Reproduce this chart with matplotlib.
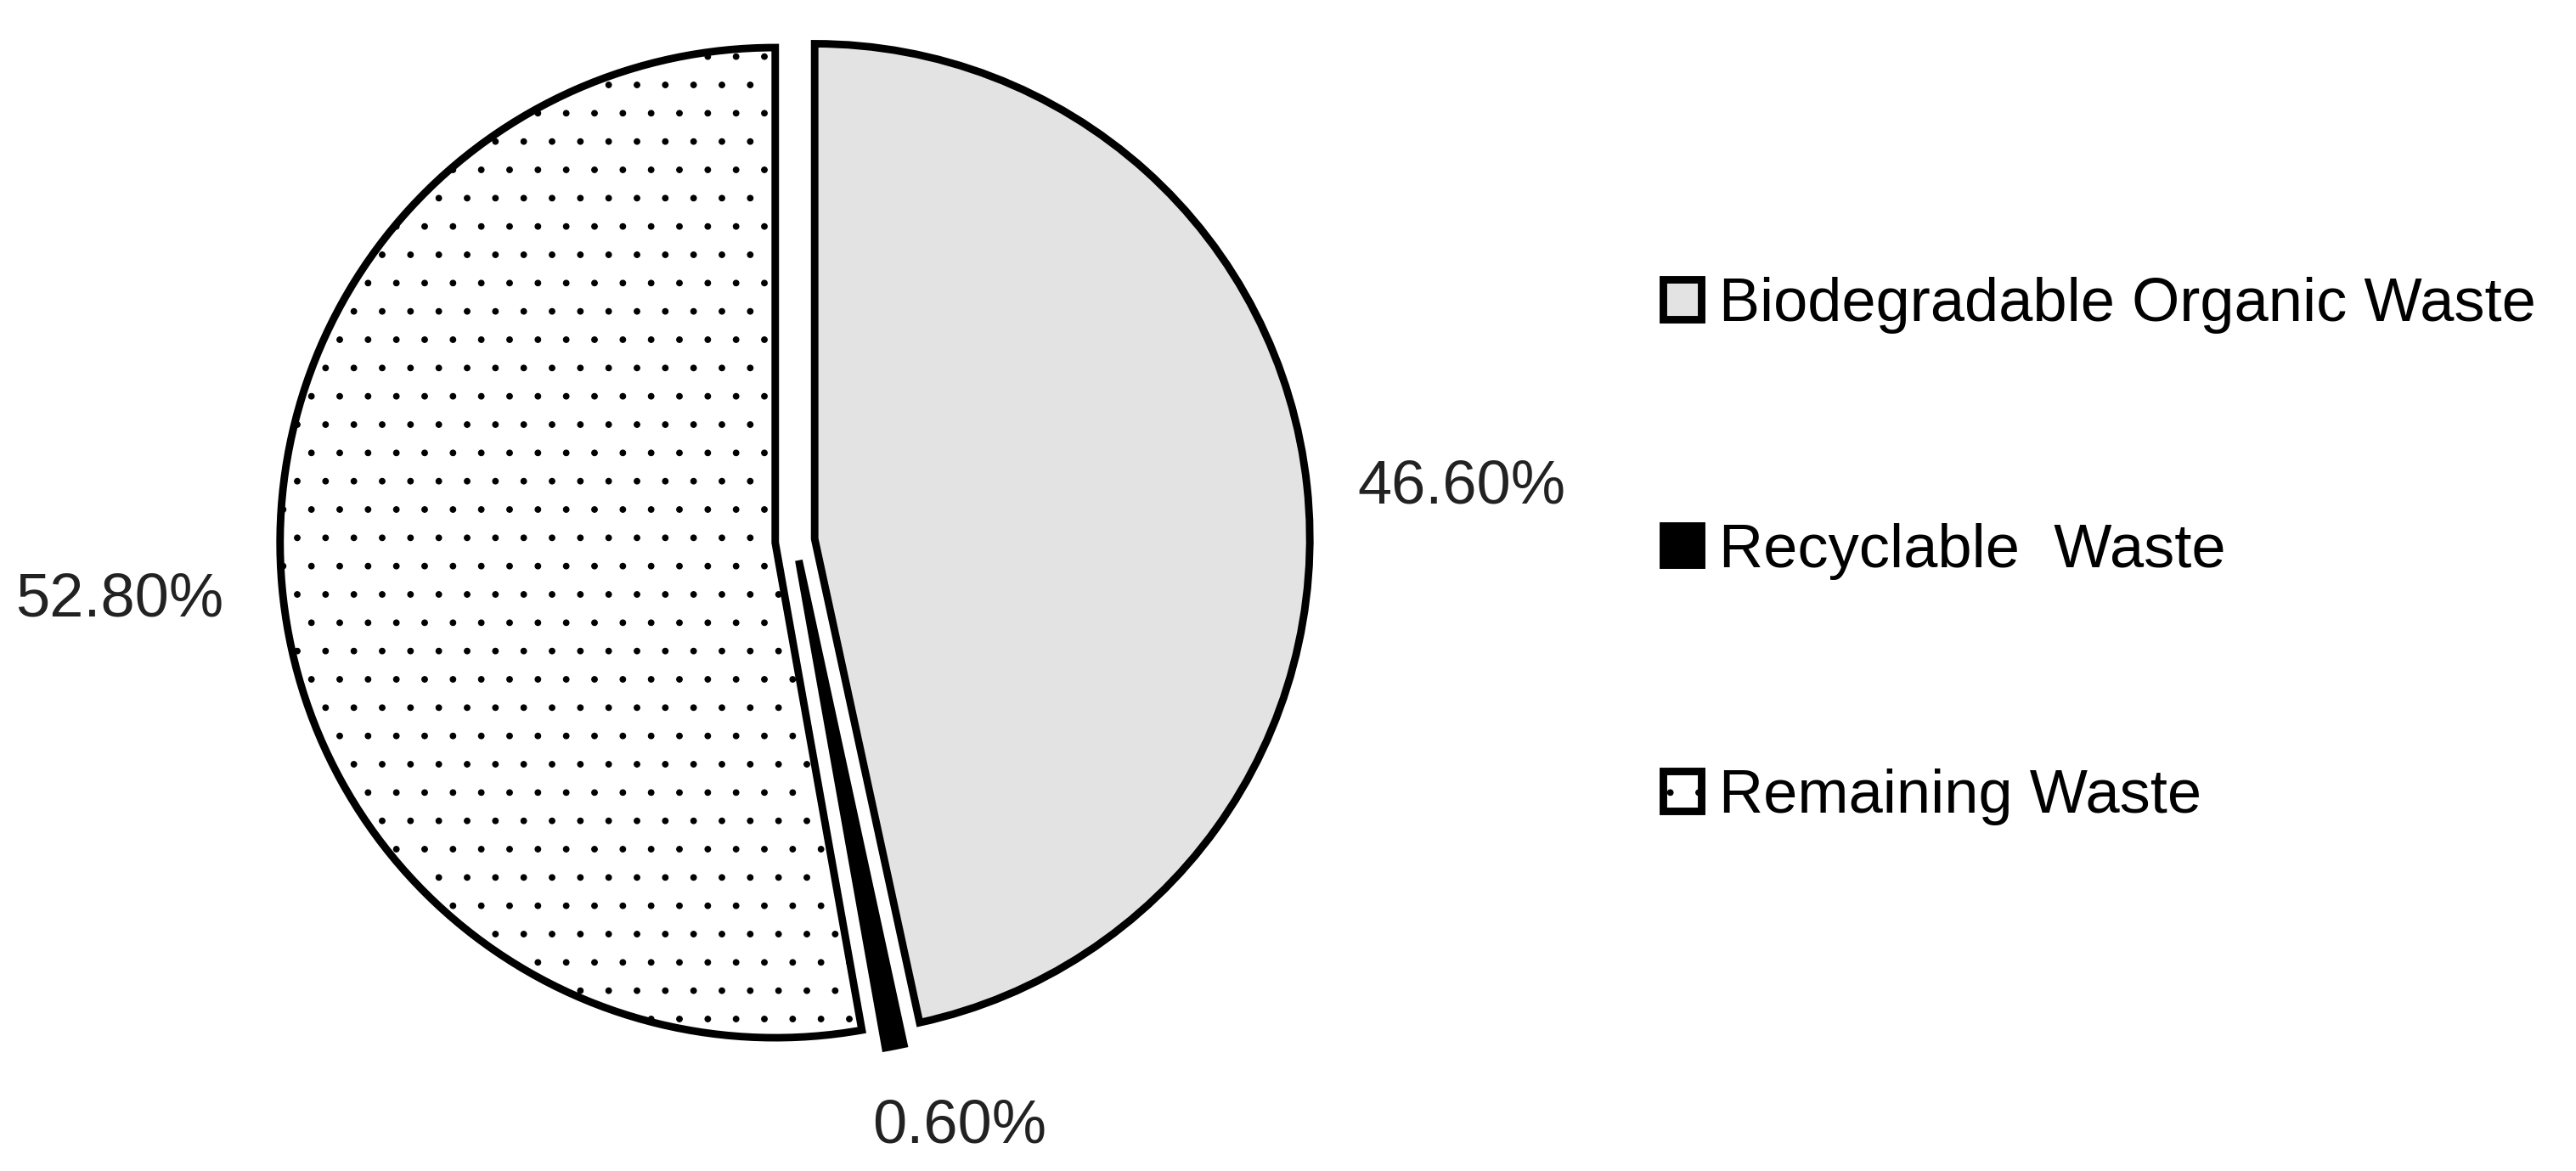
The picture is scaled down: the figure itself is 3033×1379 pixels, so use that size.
import matplotlib
matplotlib.use("Agg")
import matplotlib.pyplot as plt
import numpy as np

# waste composition (percent)
categories = ["Biodegradable Organic Waste", "Recyclable  Waste", "Remaining Waste"]
shares = [46.6, 0.6, 52.8]
pct_labels = ["46.60%", "0.60%", "52.80%"]

face_colors = ["#e3e3e3", "#000000", "#ffffff"]
hatches = [None, None, "."]
# label placement: radial distance and small angle nudge (deg)
label_dist = [1.35, 1.23, 1.37]
label_nudge = [-1.5, 4.5, 0.0]

plt.rcParams["font.family"] = ["Liberation Sans", "DejaVu Sans"]
plt.rcParams["hatch.linewidth"] = 0.4

W, H, DPI = 3033, 1379, 200
fig = plt.figure(figsize=(W / DPI, H / DPI), dpi=DPI)
ax = fig.add_axes([0, 0, 1, 1])

wedges, _ = ax.pie(shares, startangle=90, counterclock=False,
                   explode=[0.04] * len(shares), colors=face_colors,
                   wedgeprops=dict(edgecolor="black", linewidth=3.2,
                                   joinstyle="miter"))
for w, h in zip(wedges, hatches):
    if h:
        w.set_hatch(h)

for w, lab, d, nudge in zip(wedges, pct_labels, label_dist, label_nudge):
    mid = np.deg2rad((w.theta1 + w.theta2) / 2 + nudge)
    ax.text(d * np.cos(mid), d * np.sin(mid), lab, ha="center", va="center",
            fontsize=26, color="#222222")

# pie centre / radius in pixels
cx, cy, R = 936, 637, 583
ax.set_xlim(-cx / R, (W - cx) / R)
ax.set_ylim(-(H - cy) / R, cy / R)
ax.set_aspect("auto")
ax.axis("off")

ax.legend(wedges, categories, loc="center left",
          bbox_to_anchor=(1958 / W, 1 - 649 / H), bbox_transform=fig.transFigure,
          frameon=False, fontsize=26, handlelength=0.62, handleheight=0.62,
          handletextpad=0.3, labelspacing=3.08, borderpad=0, borderaxespad=0)

fig.savefig("out.png", dpi=DPI, facecolor="white")
